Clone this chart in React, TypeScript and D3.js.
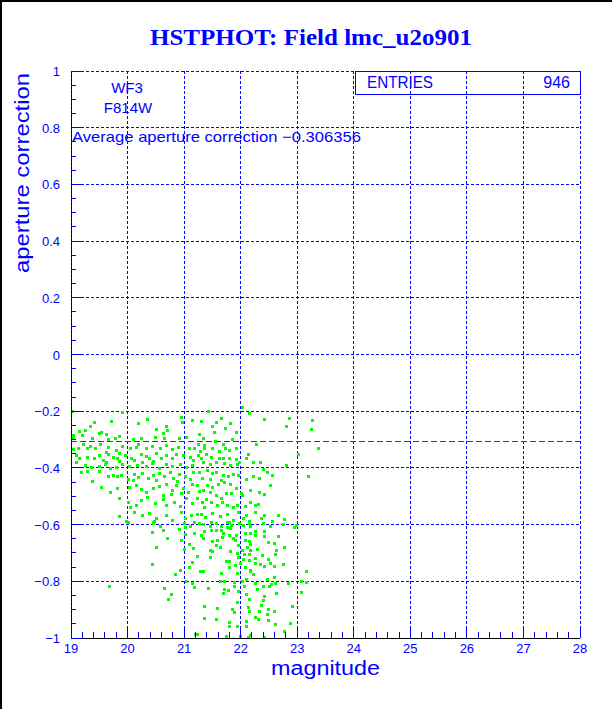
import * as d3 from 'd3';

// HSTPHOT aperture correction vs magnitude, WF3 / F814W
const title = 'HSTPHOT: Field lmc_u2o901';
const chip = 'WF3';
const filter = 'F814W';
const entries = 946;
const averageCorrection = -0.306356;

const xTickValues = [19, 20, 21, 22, 23, 24, 25, 26, 27, 28];
const yTickValues = [-1, -0.8, -0.6, -0.4, -0.2, 0, 0.2, 0.4, 0.6, 0.8, 1];

// [magnitude, aperture correction]
const stars: [number, number][] = [
  [19.02, -0.199], [19.91, -0.204], [19.71, -0.233], [20.35, -0.227], [20.18, -0.24], [19.41, -0.237],
  [20.94, -0.219], [20.96, -0.237], [21.14, -0.231], [19.34, -0.252], [19.24, -0.266], [19.15, -0.27],
  [19.53, -0.272], [19.5, -0.278], [20.5, -0.263], [20.68, -0.251], [20.69, -0.266], [20.63, -0.278],
  [19.62, -0.282], [19.84, -0.286], [19.19, -0.284], [19.03, -0.284], [19.04, -0.296], [19.65, -0.298],
  [20.09, -0.299], [20.24, -0.296], [20.49, -0.29], [20.65, -0.296], [20.91, -0.296], [21.03, -0.292],
  [19.77, -0.296], [19.38, -0.296], [19.12, -0.329], [19.21, -0.317], [19.28, -0.329], [19.34, -0.322],
  [19.43, -0.329], [19.51, -0.317], [19.66, -0.326], [19.91, -0.322], [20.15, -0.325], [20.19, -0.317],
  [20.32, -0.331], [20.44, -0.322], [20.57, -0.329], [20.68, -0.319], [20.78, -0.333], [20.89, -0.326],
  [21.09, -0.329], [21.18, -0.331], [19.79, -0.337], [19.62, -0.343], [20.04, -0.331], [19.03, -0.333],
  [19.08, -0.354], [19.15, -0.366], [19.29, -0.36], [19.41, -0.364], [19.5, -0.354], [19.56, -0.372],
  [19.66, -0.352], [19.74, -0.36], [19.81, -0.366], [19.85, -0.349], [19.96, -0.354], [20.06, -0.366],
  [20.12, -0.372], [20.24, -0.352], [20.32, -0.357], [20.38, -0.366], [20.5, -0.349], [20.59, -0.364],
  [20.68, -0.354], [20.78, -0.366], [20.85, -0.352], [20.98, -0.354], [21.1, -0.36], [21.15, -0.372],
  [20.25, -0.378], [20.45, -0.376], [19.85, -0.376], [19.62, -0.378], [19.09, -0.378], [19.24, -0.39],
  [19.35, -0.396], [19.5, -0.392], [19.61, -0.387], [19.79, -0.396], [19.9, -0.387], [20.03, -0.392],
  [20.16, -0.39], [20.32, -0.394], [20.43, -0.384], [20.56, -0.399], [20.68, -0.387], [20.79, -0.392],
  [20.92, -0.385], [21.03, -0.397], [21.14, -0.39], [19.69, -0.402], [19.18, -0.413], [19.28, -0.411],
  [19.5, -0.411], [19.65, -0.427], [19.74, -0.425], [19.82, -0.427], [19.88, -0.425], [20.0, -0.439],
  [20.12, -0.423], [20.18, -0.431], [20.26, -0.419], [20.37, -0.434], [20.45, -0.425], [20.55, -0.419],
  [20.65, -0.427], [20.75, -0.413], [20.81, -0.434], [20.91, -0.42], [21.02, -0.43], [21.1, -0.439],
  [21.16, -0.413], [20.09, -0.443], [20.5, -0.443], [20.88, -0.446], [19.38, -0.446], [19.53, -0.466],
  [19.69, -0.484], [19.82, -0.472], [20.02, -0.466], [20.15, -0.46], [20.24, -0.474], [20.32, -0.486],
  [20.45, -0.47], [20.56, -0.463], [20.68, -0.458], [20.78, -0.478], [20.85, -0.46], [20.98, -0.472],
  [21.06, -0.486], [21.14, -0.458], [20.62, -0.496], [20.76, -0.493], [20.94, -0.49], [19.85, -0.505],
  [20.0, -0.519], [20.15, -0.531], [20.24, -0.513], [20.35, -0.502], [20.49, -0.525], [20.62, -0.51],
  [20.68, -0.531], [20.82, -0.519], [20.92, -0.533], [21.03, -0.507], [21.14, -0.525], [20.04, -0.537],
  [19.85, -0.569], [20.12, -0.557], [20.26, -0.566], [20.38, -0.56], [20.5, -0.578], [20.68, -0.566],
  [20.79, -0.584], [20.94, -0.554], [21.02, -0.576], [21.12, -0.566], [20.45, -0.592], [21.18, -0.59],
  [21.42, -0.199], [22.03, -0.184], [22.14, -0.207], [21.29, -0.234], [21.57, -0.237], [21.82, -0.242],
  [21.66, -0.225], [22.42, -0.227], [22.85, -0.225], [23.26, -0.232], [21.5, -0.251], [21.73, -0.258],
  [21.92, -0.272], [21.52, -0.272], [22.81, -0.251], [23.24, -0.263], [21.33, -0.296], [21.85, -0.298],
  [21.27, -0.282], [21.24, -0.317], [21.35, -0.319], [21.55, -0.305], [21.69, -0.317], [21.8, -0.337],
  [21.92, -0.331], [21.36, -0.331], [21.49, -0.331], [21.62, -0.34], [21.73, -0.331], [22.27, -0.317],
  [23.37, -0.329], [21.28, -0.34], [21.24, -0.354], [21.39, -0.352], [21.47, -0.36], [21.61, -0.366],
  [21.68, -0.364], [21.8, -0.364], [21.92, -0.369], [22.09, -0.366], [22.13, -0.352], [21.33, -0.378],
  [21.45, -0.387], [21.56, -0.378], [21.7, -0.384], [21.82, -0.39], [21.93, -0.387], [21.97, -0.378],
  [22.22, -0.378], [22.35, -0.378], [22.8, -0.39], [23.02, -0.352], [21.3, -0.366], [21.27, -0.413],
  [21.41, -0.409], [21.5, -0.419], [21.57, -0.413], [21.68, -0.425], [21.77, -0.43], [21.86, -0.423],
  [21.95, -0.425], [22.09, -0.439], [22.22, -0.427], [22.33, -0.437], [22.39, -0.404], [22.47, -0.413],
  [22.55, -0.425], [21.32, -0.434], [21.45, -0.439], [21.65, -0.443], [23.19, -0.43], [21.23, -0.46],
  [21.26, -0.482], [21.4, -0.46], [21.33, -0.478], [21.5, -0.466], [21.6, -0.458], [21.7, -0.451],
  [21.82, -0.456], [21.92, -0.472], [22.0, -0.49], [22.03, -0.496], [22.17, -0.478], [22.33, -0.486],
  [22.41, -0.491], [22.52, -0.46], [21.45, -0.486], [21.56, -0.496], [21.74, -0.489], [21.83, -0.49],
  [21.22, -0.507], [21.32, -0.522], [21.39, -0.51], [21.48, -0.519], [21.59, -0.531], [21.67, -0.522],
  [21.75, -0.531], [21.86, -0.537], [21.93, -0.531], [22.08, -0.533], [22.16, -0.519], [22.25, -0.531],
  [22.3, -0.526], [21.65, -0.505], [21.35, -0.537], [21.23, -0.564], [21.3, -0.562], [21.37, -0.572],
  [21.5, -0.56], [21.63, -0.569], [21.76, -0.564], [21.86, -0.584], [21.96, -0.554], [22.05, -0.578],
  [22.09, -0.566], [22.15, -0.587], [22.25, -0.557], [22.36, -0.578], [22.42, -0.566], [22.56, -0.587],
  [22.66, -0.566], [22.76, -0.58], [21.47, -0.59], [21.79, -0.592],
  [19.97, -0.586], [20.01, -0.591], [20.45, -0.596], [20.46, -0.586], [20.57, -0.605], [20.78, -0.584],
  [20.91, -0.617], [21.0, -0.593], [21.02, -0.633], [21.11, -0.605], [21.18, -0.631], [20.44, -0.626],
  [20.62, -0.619], [20.69, -0.646], [20.94, -0.655], [21.08, -0.669], [20.51, -0.678], [21.0, -0.686],
  [21.15, -0.682], [21.14, -0.732], [21.08, -0.749], [20.43, -0.74], [20.92, -0.76], [20.84, -0.775],
  [21.03, -0.799], [21.14, -0.805], [21.17, -0.819], [19.68, -0.817], [20.65, -0.824], [20.76, -0.845],
  [20.71, -0.863], [21.19, -0.986], [21.01, -0.61],
  [21.26, -0.596], [21.33, -0.598], [21.45, -0.605], [21.56, -0.593], [21.65, -0.605], [21.75, -0.59],
  [21.76, -0.608], [21.83, -0.6], [21.82, -0.612], [21.97, -0.596], [22.05, -0.6], [22.15, -0.593],
  [22.16, -0.605], [22.4, -0.596], [22.52, -0.605], [22.75, -0.598], [22.95, -0.61], [22.97, -0.6],
  [21.35, -0.622], [21.29, -0.637], [21.33, -0.649], [21.47, -0.619], [21.56, -0.619], [21.65, -0.619],
  [21.69, -0.629], [21.67, -0.643], [21.8, -0.637], [21.87, -0.649], [21.92, -0.637], [22.07, -0.631],
  [22.16, -0.629], [22.26, -0.622], [22.25, -0.638], [22.41, -0.622], [22.42, -0.64], [22.66, -0.64],
  [21.5, -0.657], [21.59, -0.655], [21.57, -0.671], [21.46, -0.688], [21.5, -0.692], [21.63, -0.68],
  [21.82, -0.692], [21.9, -0.655], [21.95, -0.673], [22.07, -0.655], [22.14, -0.657], [22.16, -0.669],
  [22.12, -0.68], [22.03, -0.688], [22.17, -0.69], [22.28, -0.685], [22.49, -0.662], [22.59, -0.664],
  [22.62, -0.688], [22.77, -0.68], [21.22, -0.711], [21.46, -0.713], [21.74, -0.73], [21.8, -0.728],
  [21.94, -0.699], [21.96, -0.716], [22.06, -0.702], [22.05, -0.723], [22.14, -0.702], [22.15, -0.725],
  [22.25, -0.718], [22.37, -0.706], [22.49, -0.723], [22.52, -0.737], [22.6, -0.702], [22.74, -0.739],
  [21.9, -0.742], [21.99, -0.737], [22.08, -0.749], [22.17, -0.76], [22.25, -0.735], [22.34, -0.739],
  [22.42, -0.746], [22.59, -0.746], [21.28, -0.763], [21.34, -0.765], [21.65, -0.77], [21.79, -0.749],
  [21.93, -0.77], [22.09, -0.793], [22.16, -0.763], [22.21, -0.775], [22.47, -0.791], [22.59, -0.786],
  [23.16, -0.763], [21.63, -0.798], [21.7, -0.8], [21.88, -0.803], [22.02, -0.8], [22.25, -0.805],
  [22.4, -0.817], [22.5, -0.815], [22.54, -0.808], [22.61, -0.805], [22.63, -0.843], [22.83, -0.805],
  [23.06, -0.8], [23.15, -0.803], [23.06, -0.838], [21.42, -0.824], [21.68, -0.84], [21.7, -0.826],
  [21.77, -0.831], [21.88, -0.815], [21.96, -0.833], [22.06, -0.815], [22.09, -0.845], [22.28, -0.826],
  [22.15, -0.864], [22.42, -0.852], [22.39, -0.866], [22.36, -0.885], [22.33, -0.904], [22.49, -0.899],
  [22.59, -0.904], [22.47, -0.916], [22.9, -0.888], [21.35, -0.888], [21.59, -0.895], [21.85, -0.897],
  [21.93, -0.873], [21.89, -0.909], [22.13, -0.89], [22.15, -0.906], [22.25, -0.925], [22.3, -0.932],
  [22.48, -0.937], [22.61, -0.951], [22.88, -0.946], [21.56, -0.932], [21.36, -0.928], [21.79, -0.956],
  [21.8, -0.944], [22.09, -0.958], [22.09, -0.939], [21.94, -0.956], [21.22, -0.986], [21.74, -0.993],
  [22.13, -0.996], [22.41, -0.995], [22.77, -0.975], [22.17, -0.991], [21.99, -0.994],
];

const W = 612;
const H = 709;
const BLUE = '#0000ff';
const FONT = '"Liberation Sans", Arial, sans-serif';

const fmtY = (d: number) => (d === 0 ? '0' : (d < 0 ? '\u2212' : '') + String(Math.abs(d)));

export default function App() {
  const x = d3.scaleLinear().domain([19, 28]).range([71, 580]);
  const y = d3.scaleLinear().domain([-1, 1]).range([638, 71]);

  const xMinor = d3.range(19, 28.0001, 0.2);
  const yMinor = d3.range(-1, 1.0001, 0.05);

  return (
    <svg
      width={W}
      height={H}
      style={{ position: 'absolute', left: 0, top: 0, background: '#fff' }}
      fontFamily={FONT}
    >
      <rect x={0} y={0} width={W} height={H} fill="#fff" />
      {/* outer frame */}
      <line x1={1} y1={0} x2={1} y2={H} stroke="#000" strokeWidth={2} />
      <line x1={0} y1={1} x2={W} y2={1} stroke="#000" strokeWidth={2} />

      <text
        x={311}
        y={45}
        textAnchor="middle"
        fill={BLUE}
        fontFamily='"Liberation Serif", "Times New Roman", serif'
        fontWeight="bold"
        fontSize={24}
        textLength={322}
        lengthAdjust="spacingAndGlyphs"
      >
        {title}
      </text>

      {/* grid */}
      <g stroke={BLUE} strokeWidth={1} strokeDasharray="3 2" shapeRendering="crispEdges">
        {xTickValues.slice(1).map(t => (
          <line key={'gx' + t} x1={x(t)} x2={x(t)} y1={y(1)} y2={y(-1)} />
        ))}
        {yTickValues.slice(1).map(t => (
          <line key={'gy' + t} x1={x(19)} x2={x(28)} y1={y(t)} y2={y(t)} />
        ))}
      </g>

      {/* average line */}
      <line
        x1={x(19)}
        x2={x(28)}
        y1={y(averageCorrection)}
        y2={y(averageCorrection)}
        stroke="#e00000"
        strokeDasharray="6 3"
        shapeRendering="crispEdges"
      />

      {/* points */}
      <g fill="#00ff00" shapeRendering="crispEdges">
        {stars.map(([m, a], i) => (
          <rect key={i} x={Math.round(x(m)) - 1} y={Math.round(y(a)) - 1} width={3} height={3} />
        ))}
      </g>

      {/* axes */}
      <g shapeRendering="crispEdges">
        <line x1={x(19)} x2={x(19)} y1={y(1)} y2={y(-1)} stroke={BLUE} />
        <line x1={x(19)} x2={x(19)} y1={y(1)} y2={y(-1)} stroke="#000" strokeDasharray="2 2" />
        <line x1={x(19)} x2={x(28)} y1={y(-1)} y2={y(-1)} stroke="#000" />
        {xMinor.map((t, i) => (
          <line
            key={'xt' + i}
            x1={x(t)}
            x2={x(t)}
            y1={y(-1)}
            y2={y(-1) - (i % 5 === 0 ? 11 : 6)}
            stroke={BLUE}
          />
        ))}
        {yMinor.map((t, i) => (
          <line
            key={'yt' + i}
            x1={x(19)}
            x2={x(19) + (i % 4 === 0 ? 10 : 5)}
            y1={y(t)}
            y2={y(t)}
            stroke={BLUE}
          />
        ))}
      </g>

      {/* tick labels */}
      <g fill={BLUE} fontSize={13}>
        {xTickValues.map(t => (
          <text key={'xl' + t} x={x(t)} y={y(-1) + 15} textAnchor="middle">
            {t}
          </text>
        ))}
        {yTickValues.map(t => (
          <text key={'yl' + t} x={60} y={y(t) + 5} textAnchor="end">
            {fmtY(t)}
          </text>
        ))}
      </g>

      {/* axis titles */}
      <text
        x={380}
        y={675}
        textAnchor="end"
        fill={BLUE}
        fontSize={20}
        textLength={109}
        lengthAdjust="spacingAndGlyphs"
      >
        magnitude
      </text>
      <text
        transform={`translate(29, ${y(1) + 2}) rotate(-90)`}
        textAnchor="end"
        fill={BLUE}
        fontSize={20}
        textLength={200}
        lengthAdjust="spacingAndGlyphs"
      >
        aperture correction
      </text>

      {/* labels inside the frame */}
      <g fill={BLUE} fontSize={15}>
        <text x={127} y={93} textAnchor="middle">{chip}</text>
        <text x={128} y={113} textAnchor="middle">{filter}</text>
        <text x={72} y={142} textLength={289} lengthAdjust="spacingAndGlyphs">
          {`Average aperture correction ${'\u2212'}${Math.abs(averageCorrection)}`}
        </text>
      </g>

      {/* stats box */}
      <rect x={355} y={71} width={225} height={23} fill="none" stroke={BLUE} shapeRendering="crispEdges" />
      <g fill={BLUE} fontSize={16}>
        <text x={367} y={88} textLength={66} lengthAdjust="spacingAndGlyphs">ENTRIES</text>
        <text x={570} y={88} textAnchor="end">{entries}</text>
      </g>
    </svg>
  );
}
